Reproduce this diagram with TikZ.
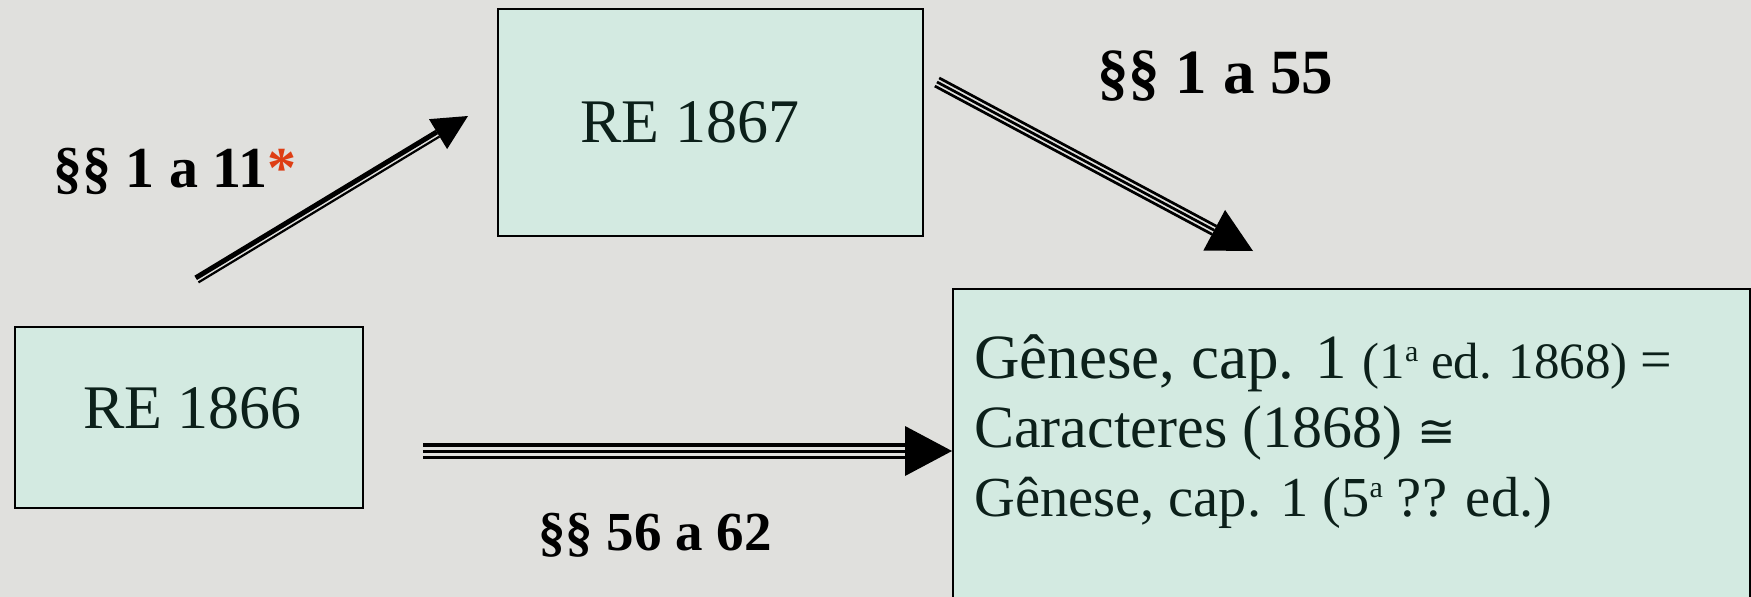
\documentclass[tikz,border=0pt]{standalone}
\usepackage{fontspec}
\setmainfont{Liberation Serif}
\newfontfamily\symfam{DejaVu Sans}
\usetikzlibrary{calc}
\definecolor{bg}{RGB}{224,224,221}
\definecolor{boxfill}{RGB}{211,234,225}
\definecolor{boxtext}{RGB}{12,32,26}
\definecolor{star}{RGB}{222,62,20}
\begin{document}
\begin{tikzpicture}[x=1pt,y=-1pt,
  box/.style={draw=black, line width=2pt, fill=boxfill, inner sep=0pt},
  boxlabel/.style={anchor=base, inner sep=0pt, text=boxtext, font=\fontsize{62}{62}\selectfont},
  gentext/.style={anchor=base west, inner sep=0pt, text=boxtext},
  seclabel/.style={anchor=base west, inner sep=0pt, font=\bfseries\fontsize{55}{55}\selectfont},
  shaft/.style={draw=black, line cap=butt},
  head/.style={fill=black, draw=none}]
\clip (0,0) rectangle (1751,597);
\fill[bg] (0,0) rectangle (1751,597);

% boxes
\node[box, minimum width=348pt, minimum height=181pt] (re66) at (189,417.5) {};
\node[boxlabel] (t66) at (192.5,428) {RE 1866};
\node[box, minimum width=425pt, minimum height=227pt] (re67) at (710.5,122.5) {};
\node[boxlabel] (t67) at (690,142) {RE 1867};
\node[box, minimum width=797pt, minimum height=340pt, anchor=north west] (gen) at (952,288) {};

\node[gentext] (l1) at (974,378) {\fontsize{63}{63}\selectfont Gênese, cap. 1 \fontsize{51}{51}\selectfont(1\raisebox{17pt}{\fontsize{30}{30}\selectfont a} ed. 1868) \fontsize{56}{56}\selectfont=};
\node[gentext] (l2) at (974,447) {\fontsize{60}{60}\selectfont Caracteres (1868) {\symfam\fontsize{46}{46}\selectfont ≅}};
\node[gentext] (l3) at (974,516) {\fontsize{56.5}{56.5}\selectfont Gênese, cap. 1 (5\raisebox{19pt}{\fontsize{30}{30}\selectfont a} ?? ed.)};

% labels
\node[seclabel, font=\bfseries\fontsize{58}{58}\selectfont] (s1) at (53,187) {§§ 1 a 11\textcolor{star}{*}};
\node[seclabel, font=\bfseries\fontsize{63}{63}\selectfont] (s2) at (1097,93) {§§ 1 a 55};
\node[seclabel] (s3) at (538,550) {§§ 56 a 62};

% arrow 1 : RE 1866 -> RE 1867 (thick + thin)
\coordinate (a1s) at (197,280);
\coordinate (a1e) at (468,116);
\coordinate (a1b) at ($(a1e)!35pt!(a1s)$);
\draw[shaft, line width=5pt] ($(a1s)!2.5pt!90:(a1e)$) -- ($(a1b)!2.5pt!90:(a1e)$);
\draw[shaft, line width=2.2pt] ($(a1s)!-2.8pt!90:(a1e)$) -- ($(a1b)!-2.8pt!90:(a1e)$);
\fill[head] ($(a1b)!17.5pt!90:(a1e)$) -- (a1e) -- ($(a1b)!-17.5pt!90:(a1e)$) -- cycle;

% arrow 2 : RE 1867 -> Genese (triple)
\coordinate (a2s) at (937,82);
\coordinate (a2e) at (1253,251);
\coordinate (a2b) at ($(a2e)!44pt!(a2s)$);
\foreach \o in {-4.6,0,4.6}{
  \draw[shaft, line width=2.7pt] ($(a2s)!\o pt!90:(a2e)$) -- ($(a2b)!\o pt!90:(a2e)$);
}
\fill[head] ($(a2b)!23pt!90:(a2e)$) -- (a2e) -- ($(a2b)!-23pt!90:(a2e)$) -- cycle;

% arrow 3 : RE 1866 -> Genese (triple)
\coordinate (a3s) at (423,451);
\coordinate (a3e) at (gen.west |- a3s);
\coordinate (a3b) at ($(a3e)!47pt!(a3s)$);
\draw[shaft, line width=3.8pt] ($(a3s)!6.3pt!90:(a3e)$) -- ($(a3b)!6.3pt!90:(a3e)$);
\draw[shaft, line width=3pt] (a3s) -- (a3b);
\draw[shaft, line width=3pt] ($(a3s)!-6.3pt!90:(a3e)$) -- ($(a3b)!-6.3pt!90:(a3e)$);
\fill[head] ($(a3b)!25pt!90:(a3e)$) -- (a3e) -- ($(a3b)!-25pt!90:(a3e)$) -- cycle;
\end{tikzpicture}
\end{document}
